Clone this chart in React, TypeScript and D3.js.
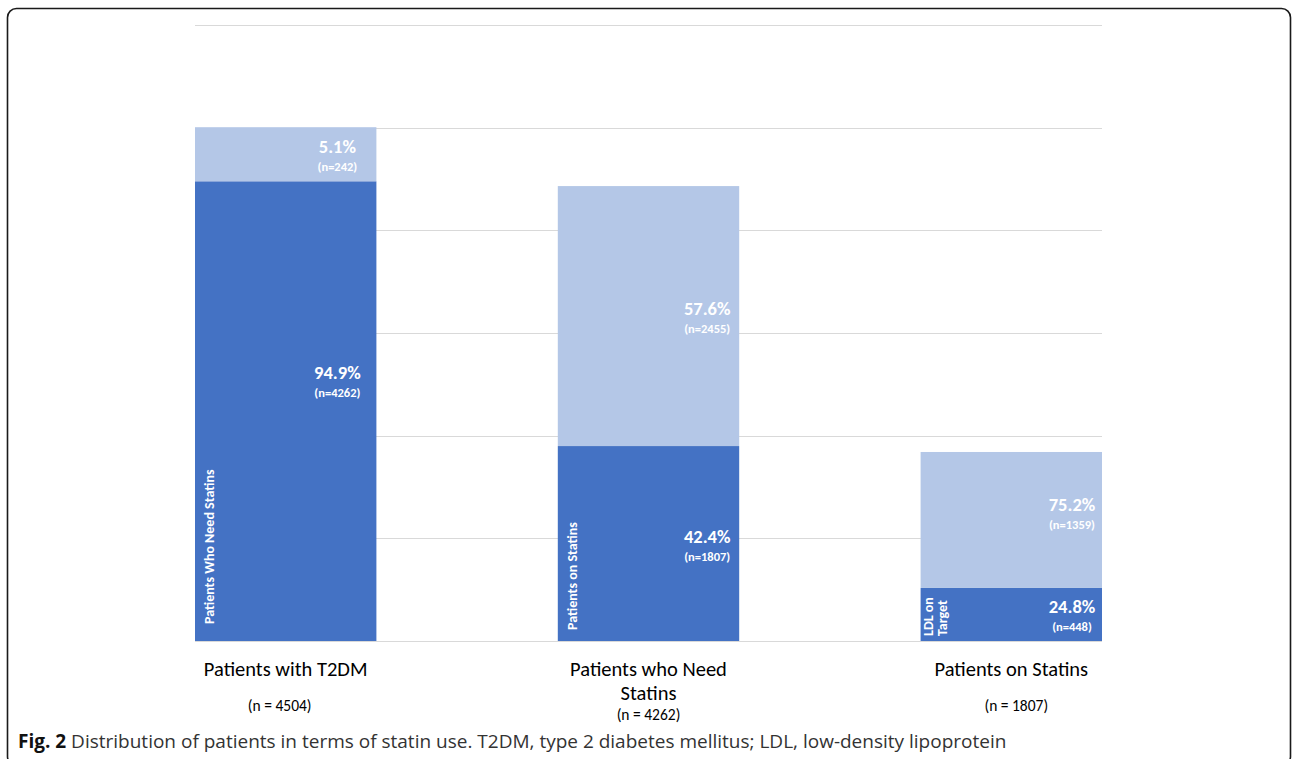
import * as d3 from "d3";

// bar segments as drawn (heights, in patients)
const categories = ["Patients with T2DM", "Patients who Need Statins", "Patients on Statins"];
const categoryLines = [["Patients with T2DM"], ["Patients who Need", "Statins"], ["Patients on Statins"]];
const categoryN = ["(n = 4504)", "(n = 4262)", "(n = 1807)"];

const baseValues = [4030, 1709, 465];
const topValues = [474, 2279, 1192];

const basePct = ["94.9%", "42.4%", "24.8%"];
const baseN = ["(n=4262)", "(n=1807)", "(n=448)"];
const topPct = ["5.1%", "57.6%", "75.2%"];
const topN = ["(n=242)", "(n=2455)", "(n=1359)"];

const baseNames = [["Patients Who Need Statins"], ["Patients on Statins"], ["LDL on", "Target"]];

const yTicks = [0, 900, 1800, 2700, 3600, 4500, 5400];

const W = 1292;
const H = 759;
const plot = {left: 195, right: 1102, top: 25, bottom: 641};

const DARK = "#4472C4";
const LIGHT = "#B4C7E7";
const FONT = "Carlito, Calibri, 'Open Sans', sans-serif";

// manual nudges of the labels (px)
const labelInset = [39, 32, 30];
const baseLabelShift = [-31, 0, 0];
const topLabelShift = [0, 0, -8];
const baseNameStart = [624, 630, 636];
const nLabelShift = [-6, 0, 5];

export default function App() {
    const x = d3.scaleBand<string>()
        .domain(categories)
        .range([plot.left, plot.right])
        .paddingInner(0.5)
        .paddingOuter(0);
    const y = d3.scaleLinear().domain([0, 5400]).range([plot.bottom, plot.top]);

    const rows = categories.map((c, i) => ({cat: c, base: baseValues[i], top: topValues[i]}));
    const series = d3.stack<any>().keys(["base", "top"])(rows);

    return <div style={{position: "absolute", left: 0, top: 0}}>
        <svg width={W} height={H} viewBox={`0 0 ${W} ${H}`} style={{display: "block", background: "#fff"}}>
            <rect x={7.5} y={8.5} width={1283} height={757} rx={9} fill="#fff" stroke="#1a1a1a" strokeWidth={1.6}/>

            {yTicks.map(t => <line key={t} x1={plot.left} x2={plot.right} y1={Math.round(y(t)) + 0.5}
                                   y2={Math.round(y(t)) + 0.5} stroke="#D9D9D9" strokeWidth={1}/>)}

            {series.map(s => <g key={s.key} fill={s.key === "base" ? DARK : LIGHT}>
                {s.map((d, i) => <rect key={i} x={x(categories[i])} width={x.bandwidth()}
                                       y={y(d[1])} height={y(d[0]) - y(d[1])}/>)}
            </g>)}

            {series.map(s => s.map((d, i) => {
                const isBase = s.key === "base";
                const cx = (x(categories[i]) as number) + x.bandwidth() - labelInset[i];
                const cy = (y(d[0]) + y(d[1])) / 2 + (isBase ? baseLabelShift[i] : topLabelShift[i]);
                return <g key={s.key + i} fill="#fff" fontFamily={FONT} textAnchor="middle">
                    <text x={cx} y={cy - 1} fontSize={18.5} fontWeight={700}>{isBase ? basePct[i] : topPct[i]}</text>
                    <text x={cx} y={cy + 17} fontSize={12.5} fontWeight={700}>{isBase ? baseN[i] : topN[i]}</text>
                </g>;
            }))}

            {baseNames.map((lines, i) => {
                const left = x(categories[i]) as number;
                const bx = left + 19 - (lines.length - 1) * 7;
                return <text key={i} transform={`translate(${bx},${baseNameStart[i]}) rotate(-90)`}
                             fill="#fff" fontFamily={FONT} fontSize={14} fontWeight={700}>
                    {lines.map((ln, j) => <tspan key={j} x={0} y={j * 14}>{ln}</tspan>)}
                </text>;
            })}

            {categoryLines.map((lines, i) => {
                const cx = (x(categories[i]) as number) + x.bandwidth() / 2;
                return <g key={i} fontFamily={FONT} textAnchor="middle" fill="#000">
                    <text x={cx} y={675.5} fontSize={20.5}>
                        {lines.map((ln, j) => <tspan key={j} x={cx} y={675.5 + j * 24}>{ln}</tspan>)}
                    </text>
                    <text x={cx + nLabelShift[i]} y={lines.length > 1 ? 720 : 711} fontSize={15.5}>{categoryN[i]}</text>
                </g>;
            })}

            <text x={18} y={748} fontFamily="'Open Sans', 'Noto Sans', sans-serif" fontSize={19} fill="#333">
                <tspan fontWeight={700} fill="#111">Fig. 2</tspan>
                <tspan> Distribution of patients in terms of statin use. T2DM, type 2 diabetes mellitus; LDL, low-density lipoprotein</tspan>
            </text>
        </svg>
    </div>;
}
